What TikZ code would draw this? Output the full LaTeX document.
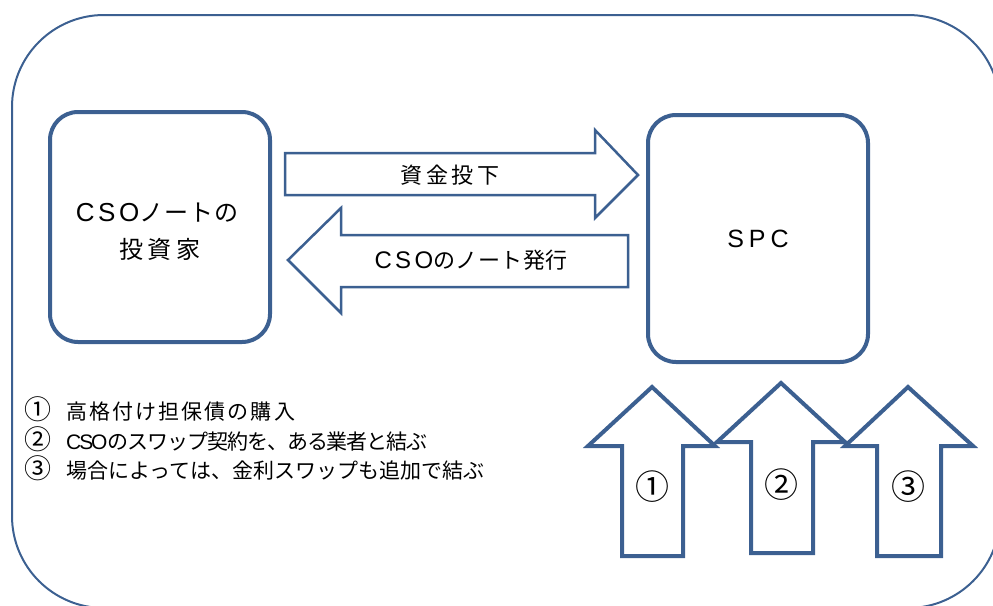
\documentclass[tikz,border=0pt]{standalone}
\usepackage{fontspec}
\setmainfont{Noto Sans CJK JP}
\newfontfamily\lat{Liberation Sans}
\definecolor{bl}{RGB}{60,96,145}
\tikzset{
  frame/.style={draw=bl, line width=2pt, rounded corners=92pt},
  party/.style={draw=bl, line width=4pt, rounded corners=28pt, fill=white, inner sep=0pt},
  flow/.style={draw=bl, line width=2.5pt, fill=white, line join=miter},
  uparrow/.style={draw=bl, line width=4pt, fill=white, line join=miter},
  lbl/.style={inner sep=0pt, font=\fontsize{22}{26}\selectfont},
  num/.style={inner sep=0pt, font=\fontsize{34}{36}\selectfont},
  item/.style={inner sep=0pt, anchor=base west, font=\fontsize{21}{24}\selectfont},
}
\newcommand{\cnum}[1]{{\fontsize{27}{27}\selectfont #1}}
\begin{document}
\begin{tikzpicture}[x=1pt,y=-1pt]
\useasboundingbox (0,0) rectangle (993,605);
\clip (0,0) rectangle (993,605);
\draw[frame] (12,15) rectangle (1000,608);
\node[party, minimum width=220pt, minimum height=230pt] (inv) at (160,227) {};
\node[party, minimum width=220pt, minimum height=247pt] (spc) at (758,238.5) {};
\node[inner sep=0pt, font=\fontsize{24}{24}\selectfont] (invt1) at (157,213) {{\lat\fontsize{26}{26}\selectfont\addfontfeatures{LetterSpace=14}CSO}\addfontfeatures{LetterSpace=4}ノートの};
\node[inner sep=0pt, font=\fontsize{24}{24}\selectfont] (invt2) at (160,249) {\addfontfeatures{LetterSpace=20}投資家};
\node[inner sep=0pt, font=\fontsize{25}{25}\selectfont\lat\addfontfeatures{LetterSpace=20}] (spct) at (758,239) {SPC};
% horizontal flow arrows
\draw[flow] (285,153) -- (595,153) -- (595,130) -- (638,175) -- (595,218) -- (595,195) -- (285,195) -- cycle;
\draw[flow] (628,235) -- (341,235) -- (341,208) -- (288,260) -- (341,313) -- (341,287) -- (628,287) -- cycle;
\node[lbl] (a1) at (450,175) {\addfontfeatures{LetterSpace=16}資金投下};
\node[lbl] (a2) at (471,260) {{\lat\fontsize{24}{24}\selectfont\addfontfeatures{LetterSpace=14}CSO}\addfontfeatures{LetterSpace=2}のノート発行};
% up arrows
\draw[uparrow] (622,556) -- (622,446) -- (588,446) -- (652,387) -- (715,446) -- (683,446) -- (683,556) -- cycle;
\draw[uparrow] (751,553) -- (751,442) -- (717,442) -- (781,383) -- (845,442) -- (813,442) -- (813,553) -- cycle;
\draw[uparrow] (877,556) -- (877,446) -- (845,446) -- (908,387) -- (973,446) -- (941,446) -- (941,556) -- cycle;
\node[num] (n1) at (652,487) {①};
\node[num] (n2) at (781,485) {②};
\node[num] (n3) at (908,487) {③};
% list
\node[item] (l1) at (24,419) {\cnum{①}\hspace{15pt}\addfontfeatures{LetterSpace=10}高格付け担保債の購入};
\node[item] (l2) at (24,449) {\cnum{②}\hspace{15pt}{\lat\addfontfeatures{LetterSpace=-10}CSO}\addfontfeatures{LetterSpace=-5}のスワップ契約を、ある業者と結ぶ};
\node[item] (l3) at (24,478) {\cnum{③}\hspace{15pt}\addfontfeatures{LetterSpace=0}場合によっては、金利スワップも追加で結ぶ};
\end{tikzpicture}
\end{document}
